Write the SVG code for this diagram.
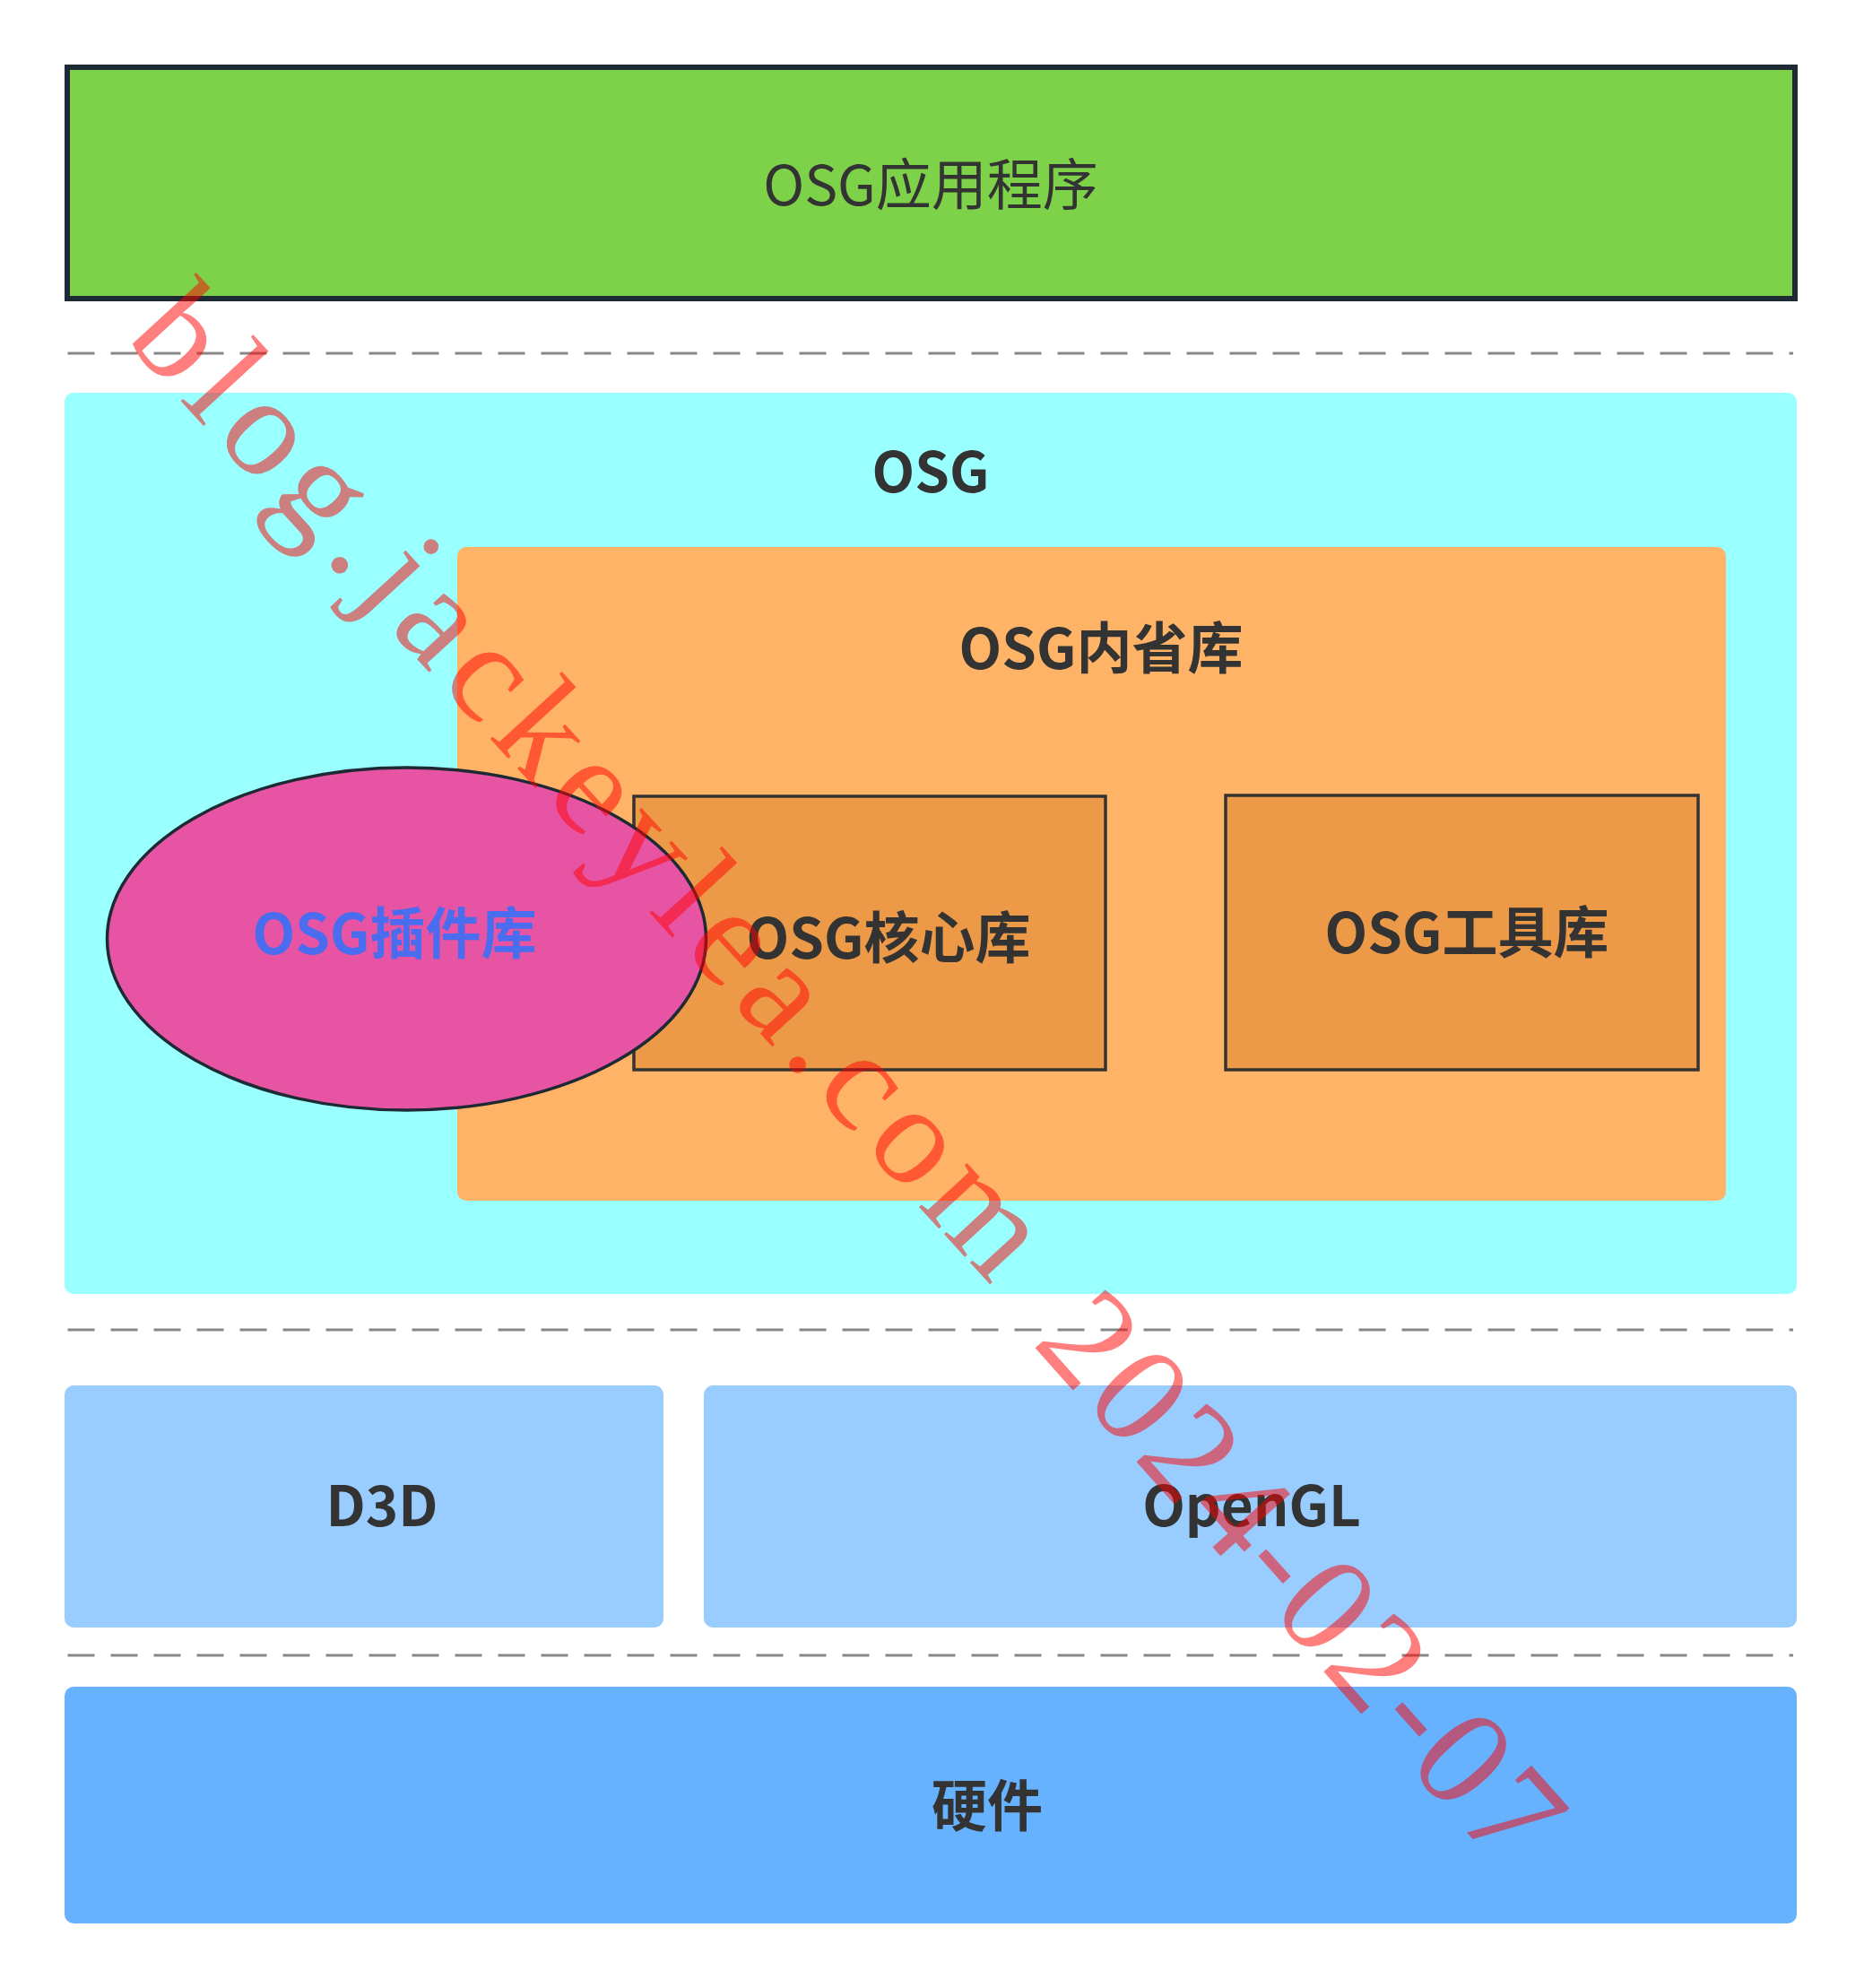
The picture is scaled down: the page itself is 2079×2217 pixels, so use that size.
<svg xmlns="http://www.w3.org/2000/svg" width="2079" height="2217" viewBox="0 0 2079 2217">
<style>
.t{font-family:"Noto Sans CJK SC","Noto Sans",sans-serif;font-size:62px;fill:#333333;text-anchor:middle}
.b{font-weight:bold}
.dash{stroke:#888888;stroke-width:3;stroke-dasharray:30 18;fill:none}
.box{stroke:#333333;stroke-width:3.5}
.wm{font-family:"Liberation Serif",serif;font-size:158px;fill:#ff0000;fill-opacity:0.5}
</style>
<rect width="2079" height="2217" fill="#ffffff"/>
<g id="app">
<rect x="75" y="75" width="1927" height="258" fill="#7dd249" stroke="#1e2a33" stroke-width="6"/>
<text class="t" x="1038" y="229">OSG应用程序</text>
</g>
<g id="separators">
<line class="dash" x1="75.5" y1="394" x2="2000" y2="394"/>
<line class="dash" x1="75.5" y1="1483" x2="2000" y2="1483"/>
<line class="dash" x1="75.5" y1="1846" x2="2000" y2="1846"/>
</g>
<g id="osg">
<rect x="72" y="438" width="1932" height="1005" rx="10" fill="#99ffff"/>
<text class="t b" x="1038" y="549">OSG</text>
</g>
<g id="introspection">
<rect x="510" y="610" width="1415" height="729" rx="10" fill="#ffb366"/>
<text class="t b" x="1228" y="746">OSG内省库</text>
</g>
<g id="core">
<rect class="box" x="707" y="888" width="526" height="305" fill="#ed9a48"/>
<text class="t b" x="991" y="1069">OSG核心库</text>
</g>
<g id="tools">
<rect class="box" x="1367" y="887" width="527" height="306" fill="#ed9a48"/>
<text class="t b" x="1636" y="1063">OSG工具库</text>
</g>
<g id="plugins">
<ellipse cx="453.5" cy="1047" rx="334" ry="191" fill="#e754a3" stroke="#1e2a33" stroke-width="3.5"/>
<text class="t b" x="440" y="1064" style="fill:#4a6cee">OSG插件库</text>
</g>
<g id="d3d">
<rect x="72" y="1545" width="668" height="270" rx="10" fill="#99ccff"/>
<text class="t b" x="426" y="1702">D3D</text>
</g>
<g id="opengl">
<rect x="785" y="1545" width="1219" height="270" rx="10" fill="#99ccff"/>
<text class="t b" x="1396" y="1702">OpenGL</text>
</g>
<g id="hardware">
<rect x="72" y="1881" width="1932" height="264" rx="10" fill="#66b2ff"/>
<text class="t b" x="1101" y="2037">硬件</text>
</g>
<g id="connectors"/>
<g id="watermark">
<text class="wm" transform="translate(138 378) rotate(47.5)" letter-spacing="12">blog.jackeylea.com</text>
<text class="wm" transform="translate(1150 1498) rotate(48.3)" letter-spacing="6">2024-02-07</text>
</g>
</svg>
